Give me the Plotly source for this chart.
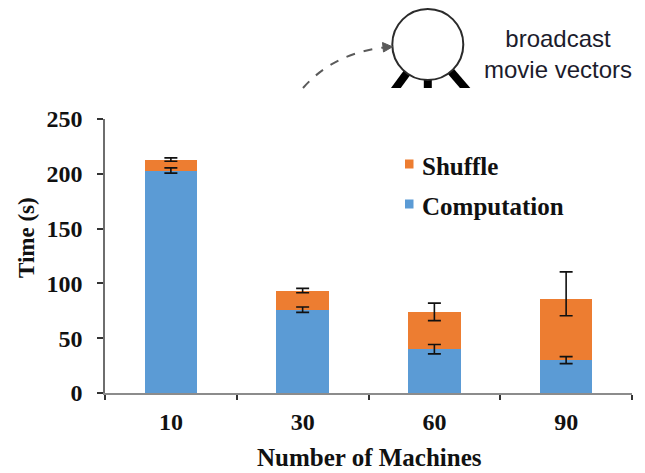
import plotly.graph_objects as go

# Cluster sizes and per-phase timings (seconds)
machines = ["10", "30", "60", "90"]
computation = [203, 76, 40, 30]
shuffle = [10, 17.5, 34, 56]
computation_err = [2.4, 2.4, 4.3, 3.2]
shuffle_err_plus = [1.5, 2, 8, 24.5]
shuffle_err_minus = [1.5, 2, 8, 15.5]
y_ticks = [0, 50, 100, 150, 200, 250]

BLUE = "#5B9BD5"
ORANGE = "#ED7D31"
SERIF = "Liberation Serif"

# Figure / plot-area geometry in pixels
FIG_W, FIG_H = 645, 473
L, R, T, B = 105, 632, 119, 393
PW, PH = R - L, B - T


def px(x):
    return (x - L) / PW


def py(y):
    return (B - y) / PH


totals = [c + s for c, s in zip(computation, shuffle)]

fig = go.Figure()
fig.add_trace(go.Bar(
    x=machines, y=computation, name="Computation",
    marker=dict(color=BLUE, line=dict(width=0)),
))
fig.add_trace(go.Bar(
    x=machines, y=shuffle, name="Shuffle",
    marker=dict(color=ORANGE, line=dict(width=0)),
))
# Error bars drawn on top of both stacked segments
err_style = dict(color="#111111", thickness=1.6, width=6.5)
fig.add_trace(go.Scatter(
    x=machines, y=computation, mode="markers", hoverinfo="skip",
    marker=dict(size=1, color="rgba(0,0,0,0)"),
    error_y=dict(type="data", array=computation_err, **err_style),
))
fig.add_trace(go.Scatter(
    x=machines, y=totals, mode="markers", hoverinfo="skip",
    marker=dict(size=1, color="rgba(0,0,0,0)"),
    error_y=dict(type="data", symmetric=False, array=shuffle_err_plus,
                 arrayminus=shuffle_err_minus, **err_style),
))

shapes = []
annotations = []

# Legend swatches and labels
legend_items = [("Shuffle", ORANGE, 164), ("Computation", BLUE, 204)]
for label, color, yc in legend_items:
    shapes.append(dict(type="rect", xref="paper", yref="paper",
                       x0=px(405), x1=px(413.5), y0=py(yc - 4.5), y1=py(yc + 4.5),
                       fillcolor=color, line=dict(width=0)))
    annotations.append(dict(text="<b>" + label + "</b>", xref="paper", yref="paper",
                            x=px(420), y=py(yc + 2), xanchor="left", yanchor="middle",
                            showarrow=False,
                            font=dict(family=SERIF, size=25, color="#111111")))

# Axis titles
annotations.append(dict(text="<b>Time (s)</b>", xref="paper", yref="paper",
                        x=px(26), y=py(238), textangle=-90, showarrow=False,
                        xanchor="center", yanchor="middle",
                        font=dict(family=SERIF, size=23, color="#111111")))
annotations.append(dict(text="<b>Number of Machines</b>", xref="paper", yref="paper",
                        x=px(369), y=py(458), showarrow=False,
                        xanchor="center", yanchor="middle",
                        font=dict(family=SERIF, size=25, color="#111111")))

# Diagram fragment above the chart: node with edges and a broadcast arrow
cx, cy, r = 427.8, 44.5, 35.5
for ex, ey in [(390, 96), (427.8, 96), (472, 96)]:
    shapes.append(dict(type="line", xref="paper", yref="paper",
                       x0=px(cx), y0=py(cy), x1=px(ex), y1=py(ey),
                       line=dict(color="#000000", width=8)))
shapes.append(dict(type="rect", xref="paper", yref="paper",
                   x0=px(370), x1=px(500), y0=py(104), y1=py(88),
                   fillcolor="white", line=dict(width=0)))
shapes.append(dict(type="circle", xref="paper", yref="paper",
                   x0=px(cx - r), x1=px(cx + r), y0=py(cy + r), y1=py(cy - r),
                   fillcolor="white", line=dict(color="#2b2b2b", width=2)))
curve = "M {},{} Q {},{} {},{}".format(px(303), py(88), px(334), py(53),
                                       px(384), py(47.5))
shapes.append(dict(type="path", xref="paper", yref="paper", path=curve,
                   line=dict(color="#5a5a5a", width=2, dash="dash")))
head = "M {},{} L {},{} L {},{} Z".format(px(392.5), py(46.8), px(382.5), py(42.5),
                                         px(383.5), py(52))
shapes.append(dict(type="path", xref="paper", yref="paper", path=head,
                   fillcolor="#5a5a5a", line=dict(color="#5a5a5a", width=1)))
annotations.append(dict(text="broadcast<br>movie vectors", xref="paper", yref="paper",
                        x=px(558), y=py(54), showarrow=False,
                        xanchor="center", yanchor="middle", align="center",
                        font=dict(family="Liberation Sans", size=24, color="#1c1c2c")))

tick_font = dict(family=SERIF, size=24, color="#111111", weight="bold")

fig.update_layout(
    width=FIG_W, height=FIG_H,
    margin=dict(l=L, r=FIG_W - R, t=T, b=FIG_H - B, pad=0),
    barmode="stack", bargap=0.6,
    showlegend=False,
    plot_bgcolor="white", paper_bgcolor="white",
    shapes=shapes, annotations=annotations,
    xaxis=dict(
        type="category", tickson="boundaries",
        ticks="outside", ticklen=5, tickwidth=1.5, tickcolor="#333333",
        showline=True, linecolor="#8c8c8c", linewidth=2,
        showgrid=False, zeroline=False,
        tickfont=tick_font, ticklabelstandoff=6,
    ),
    yaxis=dict(
        range=[0, 250], tickvals=y_ticks,
        ticks="outside", ticklen=6, tickwidth=1.5, tickcolor="#333333",
        showline=True, linecolor="#6e6e6e", linewidth=1.5,
        showgrid=False, zeroline=False,
        tickfont=tick_font, ticklabelstandoff=10,
    ),
)

fig.write_html("out.html")
